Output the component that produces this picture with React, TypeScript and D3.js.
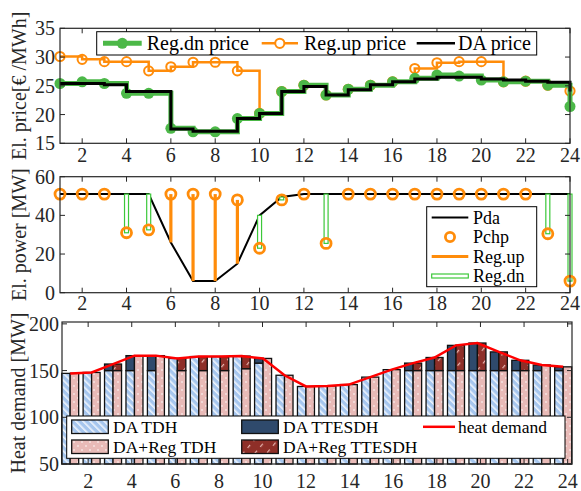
import React from "react";
import * as d3 from "d3";

// hours of the day
const hours = [1, 2, 3, 4, 5, 6, 7, 8, 9, 10, 11, 12, 13, 14, 15, 16, 17, 18, 19, 20, 21, 22, 23, 24];
const evenTicks = [2, 4, 6, 8, 10, 12, 14, 16, 18, 20, 22, 24];

// panel 1: prices (€/MWh)
const daPrice = [25.4, 25.4, 25.2, 24.0, 24.0, 17.5, 17.1, 17.1, 19.3, 20.2, 24.0, 24.9, 23.4, 24.3, 25.2, 25.7, 26.2, 26.5, 26.5, 26.2, 26.0, 25.8, 25.6, 24.0];
const regDnPrice = [25.4, 25.7, 25.4, 23.7, 23.7, 17.6, 17.0, 17.0, 19.3, 20.2, 24.0, 25.1, 23.4, 24.4, 25.1, 25.7, 26.3, 26.9, 26.7, 26.0, 25.7, 25.8, 25.1, 21.4];
const regUpPrice = [30.1, 29.6, 29.2, 29.2, 27.6, 28.3, 29.1, 29.1, 27.6, 20.2, 24.0, 25.1, 23.4, 24.4, 25.1, 25.7, 28.0, 29.0, 29.2, 29.2, 25.7, 25.8, 25.1, 24.1];
const priceTicks = [15, 20, 25, 30, 35];

// panel 2: electric power (MW)
const pda = [51, 51, 51, 51, 51, 26, 6, 6, 15, 40, 49.5, 51, 51, 51, 51, 51, 51, 51, 51, 51, 51, 51, 51, 51];
const pchp = [51, 51, 51, 31, 32.5, 51, 51, 51, 48, 23, 48, 51, 25.5, 51, 51, 51, 51, 51, 51, 51, 51, 51, 30.5, 6];
const powerTicks = [0, 20, 40, 60];

// panel 3: heat (MW)
const daTdh = [147, 148, 150, 150, 150, 163, 165, 165, 165.5, 158, 145, 133, 133.5, 135, 143, 151, 150, 150, 150, 150, 150, 150, 150, 150];
const daTtesdh = [0, 0, 7, 16, 16, 0, 0, 0, 0, 5, 0, 0, 0, 0, 0, 0, 8, 14, 27, 29.5, 20, 11, 6, 4];
const regTdh = [147, 148, 150, 166, 166, 150, 150, 150, 152, 163, 145, 133, 133.5, 135, 143, 151, 150, 150, 150, 150, 150, 150, 156, 154];
const regTtesdh = [0, 0, 7, 0, 0, 13, 15, 15, 13.5, 0, 0, 0, 0, 0, 0, 0, 8, 14, 27, 29.5, 20, 11, 0, 0];
const heatDemand = [147, 148, 157, 166, 166, 163, 165, 165, 165.5, 163, 145, 133, 133.5, 135, 143, 151, 158, 164, 177, 179.5, 170, 161, 156, 154];
const heatTicks = [50, 100, 150, 200];

const FONT = "'Liberation Serif', 'Times New Roman', serif";
const AX = "#262626";
const GREEN = "#4cb848";
const ORANGE = "#ff8c0a";

// box with inward ticks on all four sides (matlab style)
const Frame = ({ xs, ys, xTicks, yTicks, xLabelDy, yLabelEnd, yLabel, yLabelX }) => {
  const [x0, x1] = xs.range();
  const [y0, y1] = ys.range();
  return (
    <g fontFamily={FONT} fontSize={20} fill={AX}>
      {xTicks.map((t) => (
        <g key={"x" + t}>
          <line x1={xs(t)} x2={xs(t)} y1={y0} y2={y0 - 5} stroke={AX} />
          <line x1={xs(t)} x2={xs(t)} y1={y1} y2={y1 + 5} stroke={AX} />
          <text x={xs(t)} y={y0 + xLabelDy} textAnchor="middle">{t}</text>
        </g>
      ))}
      {yTicks.map((t) => (
        <g key={"y" + t}>
          <line x1={x0} x2={x0 + 5} y1={ys(t)} y2={ys(t)} stroke={AX} />
          <line x1={x1} x2={x1 - 5} y1={ys(t)} y2={ys(t)} stroke={AX} />
          <text x={yLabelEnd} y={ys(t)} dy="0.35em" textAnchor="end">{t}</text>
        </g>
      ))}
      <rect x={x0} y={y1} width={x1 - x0} height={y0 - y1} fill="none" stroke={AX} strokeWidth={1.2} />
      <text
        transform={`translate(${yLabelX},${(y0 + y1) / 2}) rotate(-90)`}
        textAnchor="middle"
        dy="0.35em"
      >
        {yLabel}
      </text>
    </g>
  );
};

export default function App() {
  // scales
  const x = d3.scaleLinear().domain([1, 24]).range([60, 570]);
  const yP = d3.scaleLinear().domain([15, 35]).range([143.3, 28.3]);
  const yW = d3.scaleLinear().domain([0, 60]).range([292.7, 176.7]);
  const xH = d3.scaleLinear().domain([0.8, 24.2]).range([62, 572]);
  const yH = d3.scaleLinear().domain([50, 202]).range([464, 322]);
  const xBar = d3.scaleLinear().domain([1, 24]).range([xH(0.98), xH(23.6)]);
  const bw = 8.5;

  const stairs = (vals) =>
    d3
      .line()
      .x((_, i) => x(hours[i]))
      .y((d) => yP(d))
      .curve(d3.curveStepAfter)(vals);

  const pdaLine = d3
    .line()
    .x((_, i) => x(hours[i]))
    .y((d) => yW(d))(pda);

  const heatLine = d3
    .line()
    .x((_, i) => xBar(hours[i]) + bw / 2)
    .y((d) => yH(d))(heatDemand);

  const barRect = (key, left, lo, hi, fill) =>
    hi > lo ? (
      <rect key={key} x={left} y={yH(hi)} width={bw} height={yH(lo) - yH(hi)} fill={fill} stroke="#111" strokeWidth={1.3} />
    ) : null;

  return (
    <svg width={581} height={491} style={{ position: "absolute", left: 0, top: 0, background: "#fff" }}>
      <defs>
        <pattern id="pBlue" width="5" height="5" patternUnits="userSpaceOnUse" patternTransform="rotate(-45)">
          <rect width="5" height="5" fill="#a6c6ee" />
          <rect width="1.6" height="5" fill="#eef4fc" />
        </pattern>
        <pattern id="pPink" width="8" height="8" patternUnits="userSpaceOnUse">
          <rect width="8" height="8" fill="#e8bab7" />
          <circle cx="2" cy="2" r="0.8" fill="#fff" />
          <circle cx="6" cy="6" r="0.8" fill="#fff" />
        </pattern>
        <pattern id="pRed" width="9" height="9" patternUnits="userSpaceOnUse" patternTransform="rotate(40)">
          <rect width="9" height="9" fill="#8e2f28" />
          <rect width="1.2" height="4" fill="#e6b5b0" />
        </pattern>
      </defs>

      {/* ---------- panel 1: prices ---------- */}
      <path d={stairs(regUpPrice)} fill="none" stroke={ORANGE} strokeWidth={2.5} />
      {regUpPrice.map((v, i) => (
        <circle key={"u" + i} cx={x(hours[i])} cy={yP(v)} r={4.6} fill="none" stroke={ORANGE} strokeWidth={2} />
      ))}
      <path d={stairs(regDnPrice)} fill="none" stroke={GREEN} strokeWidth={5} />
      {regDnPrice.map((v, i) => (
        <circle key={"d" + i} cx={x(hours[i])} cy={yP(v)} r={5.5} fill={GREEN} />
      ))}
      <path d={stairs(daPrice)} fill="none" stroke="#000" strokeWidth={3} />
      <Frame xs={x} ys={yP} xTicks={evenTicks} yTicks={priceTicks} xLabelDy={19} yLabelEnd={55} yLabel="El. price[€ /MWh]" yLabelX={19} />

      <g fontFamily={FONT} fontSize={20} fill="#000">
        <rect x={96.7} y={31.7} width={440} height={23.3} fill="#fff" stroke="#000" />
        <line x1={103} x2={141.7} y1={43.3} y2={43.3} stroke={GREEN} strokeWidth={5} />
        <circle cx={122.3} cy={43.3} r={5.5} fill={GREEN} />
        <text x={146.7} y={43.3} dy="0.35em">Reg.dn price</text>
        <line x1={261.7} x2={298} y1={43.3} y2={43.3} stroke={ORANGE} strokeWidth={2.5} />
        <circle cx={279.8} cy={43.3} r={4.6} fill="#fff" stroke={ORANGE} strokeWidth={2} />
        <text x={304} y={43.3} dy="0.35em">Reg.up price</text>
        <line x1={416.7} x2={455} y1={43.3} y2={43.3} stroke="#000" strokeWidth={2.5} />
        <text x={458} y={43.3} dy="0.35em">DA price</text>
      </g>

      {/* ---------- panel 2: power ---------- */}
      <path d={pdaLine} fill="none" stroke="#000" strokeWidth={2} />
      {hours.map((h, i) =>
        pchp[i] > pda[i] ? (
          <line key={"su" + h} x1={x(h)} x2={x(h)} y1={yW(pda[i])} y2={yW(pchp[i])} stroke={ORANGE} strokeWidth={3.2} />
        ) : null
      )}
      {hours.map((h, i) =>
        pchp[i] < pda[i] ? (
          <rect key={"sd" + h} x={x(h) - 2} y={yW(pda[i])} width={4} height={yW(pchp[i]) - yW(pda[i])} fill="#fff" stroke="#3cc83a" strokeWidth={1.2} />
        ) : null
      )}
      {pchp.map((v, i) => (
        <circle key={"c" + i} cx={x(hours[i])} cy={yW(v)} r={5} fill="none" stroke={ORANGE} strokeWidth={2.8} />
      ))}
      <Frame xs={x} ys={yW} xTicks={evenTicks} yTicks={powerTicks} xLabelDy={17} yLabelEnd={55} yLabel="El. power [MW]" yLabelX={19} />

      <g fontFamily={FONT} fontSize={18} fill="#000">
        <rect x={426.7} y={206.7} width={110} height={80} fill="#fff" stroke="#000" />
        <line x1={431.7} x2={468.3} y1={217.5} y2={217.5} stroke="#000" strokeWidth={2} />
        <text x={473} y={217.5} dy="0.35em">Pda</text>
        <circle cx={450} cy={237} r={4.6} fill="none" stroke={ORANGE} strokeWidth={2.8} />
        <text x={473} y={237} dy="0.35em">Pchp</text>
        <line x1={431.7} x2={468.3} y1={256.5} y2={256.5} stroke={ORANGE} strokeWidth={3} />
        <text x={473} y={256.5} dy="0.35em">Reg.up</text>
        <rect x={431.7} y={274} width={36.6} height={4} fill="#fff" stroke="#3cc83a" strokeWidth={1.2} />
        <text x={473} y={276} dy="0.35em">Reg.dn</text>
      </g>

      {/* ---------- panel 3: heat ---------- */}
      {hours.map((h, i) => {
        const bl = xBar(h) - bw / 2;
        const pl = xBar(h) + bw / 2;
        return (
          <g key={"b" + h}>
            {barRect("bt", bl, 50, daTdh[i], "url(#pBlue)")}
            {barRect("bs", bl, daTdh[i], daTdh[i] + daTtesdh[i], "#2f4a6c")}
            {barRect("pt", pl, 50, regTdh[i], "url(#pPink)")}
            {barRect("ps", pl, regTdh[i], regTdh[i] + regTtesdh[i], "url(#pRed)")}
          </g>
        );
      })}
      <path d={heatLine} fill="none" stroke="#ff0000" strokeWidth={2.5} />
      <Frame xs={xH} ys={yH} xTicks={evenTicks} yTicks={heatTicks} xLabelDy={24} yLabelEnd={59} yLabel="Heat demand [MW]" yLabelX={18} />

      <g fontFamily={FONT} fontSize={17.5} fill="#000">
        <rect x={66.7} y={416} width={498.3} height={42.3} fill="#fff" stroke="#000" />
        <rect x={71.7} y={420} width={36.6} height={13.5} fill="url(#pBlue)" stroke="#111" strokeWidth={1.3} />
        <text x={113} y={426.8} dy="0.35em">DA TDH</text>
        <rect x={71.7} y={440} width={36.6} height={13.5} fill="url(#pPink)" stroke="#111" strokeWidth={1.3} />
        <text x={113} y={446.8} dy="0.35em">DA+Reg TDH</text>
        <rect x={241.7} y={420} width={36.6} height={13.5} fill="#2f4a6c" stroke="#111" strokeWidth={1.3} />
        <text x={283} y={426.8} dy="0.35em">DA TTESDH</text>
        <rect x={241.7} y={440} width={36.6} height={13.5} fill="url(#pRed)" stroke="#111" strokeWidth={1.3} />
        <text x={283} y={446.8} dy="0.35em">DA+Reg TTESDH</text>
        <line x1={423} x2={455} y1={426.8} y2={426.8} stroke="#ff0000" strokeWidth={2.5} />
        <text x={458} y={426.8} dy="0.35em">heat demand</text>
      </g>
    </svg>
  );
}
